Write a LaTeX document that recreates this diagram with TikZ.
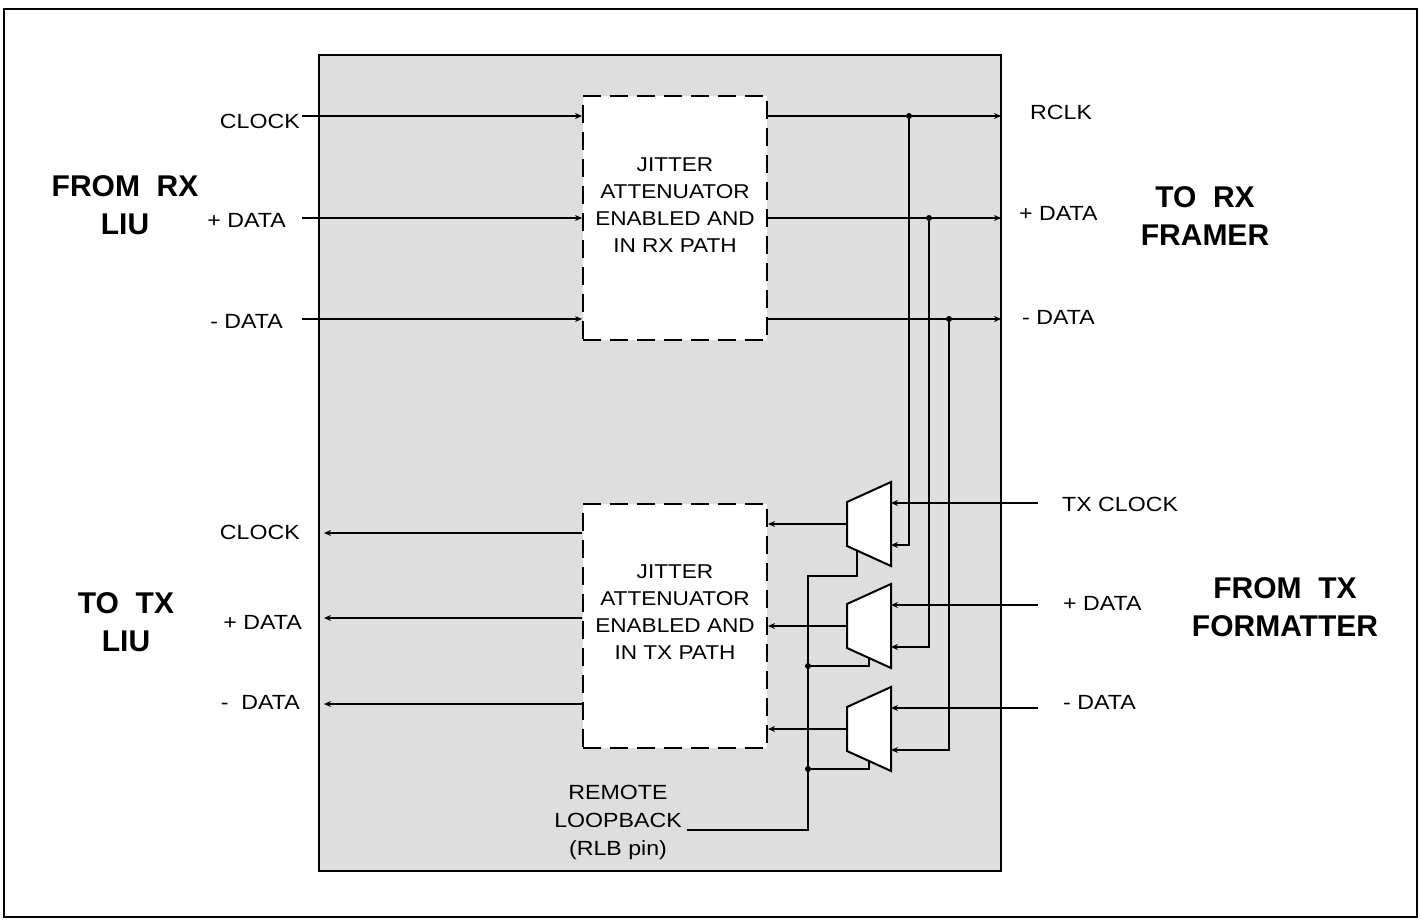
\documentclass[tikz,border=0pt]{standalone}
\usepackage{fontspec}
\setmainfont{Liberation Sans}
\newfontfamily\lblfont[FakeStretch=1.13]{Liberation Sans}
\usetikzlibrary{arrows.meta}
\definecolor{boxgray}{RGB}{222,222,222}
\tikzset{
  wire/.style={line width=2pt, black},
  arr/.style={wire, -{Stealth[length=7pt,width=6pt]}},
  jblock/.style={draw, dash pattern=on 18pt off 9pt, line width=2pt, fill=white, minimum width=184pt, minimum height=244pt, inner sep=0pt},
  small/.style={font=\lblfont\fontsize{20.5}{27}\selectfont, inner sep=0pt},
  big/.style={font=\fontsize{30}{38}\selectfont\bfseries, inner sep=0pt, align=center},
  blocktext/.style={font=\lblfont\fontsize{20}{27}\selectfont, align=center, inner sep=0pt},
  muxshape/.style={draw, line width=2pt, fill=white},
  dot/.style={circle, fill=black, inner sep=0pt, minimum size=6pt}
}
\begin{document}
\begin{tikzpicture}[x=1pt,y=-1pt]
\useasboundingbox (0,0) rectangle (1421,920);
% outer frame and grey chip area
\draw[line width=2pt] (4,9) rectangle (1417,917);
\draw[line width=2.4pt, fill=boxgray] (319,55) rectangle (1001,871);

% jitter attenuator blocks
\node[jblock] (rxja) at (675,218) {};
\node[blocktext] (rxtxt) at (675,205) {JITTER\\ATTENUATOR\\ENABLED AND\\IN RX PATH};
\node[jblock] (txja) at (675,625.5) {};
\node[blocktext] (txtxt) at (675,612) {JITTER\\ATTENUATOR\\ENABLED AND\\IN TX PATH};

% big labels
\node[big] (fromrx) at (125,205) {FROM\ \ RX\\LIU};
\node[big] (torx) at (1205,216) {TO\ \ RX\\FRAMER};
\node[big] (totx) at (126,622) {TO\ \ TX\\LIU};
\node[big] (fromtx) at (1285,607) {FROM\ \ TX\\FORMATTER};

% left RX input labels
\node[small, anchor=east] (lclk) at (300,121) {CLOCK};
\node[small, anchor=east] (lpd) at (286,220) {+ DATA};
\node[small, anchor=east] (lmd) at (283,321) {- DATA};
% left TX output labels
\node[small, anchor=east] (oclk) at (300,532) {CLOCK};
\node[small, anchor=east] (opd) at (302,622) {+ DATA};
\node[small, anchor=east] (omd) at (300,702) {-\ \ DATA};
% right RX output labels
\node[small, anchor=west] (rclk) at (1030,112) {RCLK};
\node[small, anchor=west] (rpd) at (1019,213) {+ DATA};
\node[small, anchor=west] (rmd) at (1022,317) {- DATA};
% right TX input labels
\node[small, anchor=west] (tclk) at (1062,504) {TX CLOCK};
\node[small, anchor=west] (tpd) at (1063,603) {+ DATA};
\node[small, anchor=west] (tmd) at (1063,702) {- DATA};
% remote loopback label
\node[small, align=center, font=\lblfont\fontsize{20.5}{28}\selectfont] (rlb) at (618,822) {REMOTE\\LOOPBACK\\(RLB pin)};

% coordinates
\coordinate (inclk) at (302,116);
\coordinate (inpd) at (302,218);
\coordinate (inmd) at (302,319);
\coordinate (outclk) at (1001,116);
\coordinate (outpd) at (1001,218);
\coordinate (outmd) at (1001,319);
\coordinate (tapclk) at (909,116);
\coordinate (tappd) at (929,218);
\coordinate (tapmd) at (949,319);
\coordinate (txclkin) at (1038,503);
\coordinate (txpdin) at (1038,605);
\coordinate (txmdin) at (1038,708);
\coordinate (lftclk) at (324,533);
\coordinate (lftpd) at (324,618);
\coordinate (lftmd) at (324,704);

% RX input lines
\draw[arr] (inclk) -- (rxja.west |- inclk);
\draw[arr] (inpd) -- (rxja.west |- inpd);
\draw[arr] (inmd) -- (rxja.west |- inmd);
% RX output lines
\draw[arr] (rxja.east |- outclk) -- (outclk);
\draw[arr] (rxja.east |- outpd) -- (outpd);
\draw[arr] (rxja.east |- outmd) -- (outmd);
\node[dot] (dclk) at (tapclk) {};
\node[dot] (dpd) at (tappd) {};
\node[dot] (dmd) at (tapmd) {};

% multiplexers
\coordinate (m1a) at (847,502); \coordinate (m1b) at (891,482); \coordinate (m1c) at (891,566); \coordinate (m1d) at (847,546);
\coordinate (m2a) at (847,604); \coordinate (m2b) at (891,584); \coordinate (m2c) at (891,668); \coordinate (m2d) at (847,648);
\coordinate (m3a) at (847,707); \coordinate (m3b) at (891,687); \coordinate (m3c) at (891,771); \coordinate (m3d) at (847,751);
\draw[muxshape] (m1a) -- (m1b) -- (m1c) -- (m1d) -- cycle;
\draw[muxshape] (m2a) -- (m2b) -- (m2c) -- (m2d) -- cycle;
\draw[muxshape] (m3a) -- (m3b) -- (m3c) -- (m3d) -- cycle;
\coordinate (m1out) at (847,524); \coordinate (m2out) at (847,626); \coordinate (m3out) at (847,729);
\coordinate (m1in1) at (891,503); \coordinate (m1in2) at (891,545);
\coordinate (m2in1) at (891,605); \coordinate (m2in2) at (891,647);
\coordinate (m3in1) at (891,708); \coordinate (m3in2) at (891,750);
\coordinate (m1sel) at (857,551); \coordinate (m2sel) at (869,658); \coordinate (m3sel) at (869,761);

% TX inputs into muxes
\draw[arr] (txclkin) -- (m1in1);
\draw[arr] (txpdin) -- (m2in1);
\draw[arr] (txmdin) -- (m3in1);
% loopback taps into muxes
\draw[arr] (dclk) |- (m1in2);
\draw[arr] (dpd) |- (m2in2);
\draw[arr] (dmd) |- (m3in2);
% mux outputs into TX jitter attenuator
\draw[arr] (m1out) -- (txja.east |- m1out);
\draw[arr] (m2out) -- (txja.east |- m2out);
\draw[arr] (m3out) -- (txja.east |- m3out);
% TX outputs to the left
\draw[arr] (txja.west |- lftclk) -- (lftclk);
\draw[arr] (txja.west |- lftpd) -- (lftpd);
\draw[arr] (txja.west |- lftmd) -- (lftmd);

% remote loopback select line
\coordinate (rlbend) at (687,830);
\coordinate (rlbcorner) at (808,830);
\coordinate (s1) at (808,576);
\node[dot] (s2) at (808,666) {};
\node[dot] (s3) at (808,769) {};
\draw[wire] (rlbend) -- (rlbcorner) -- (s1) -| (m1sel);
\draw[wire] (s2) -| (m2sel);
\draw[wire] (s3) -| (m3sel);
\end{tikzpicture}
\end{document}
